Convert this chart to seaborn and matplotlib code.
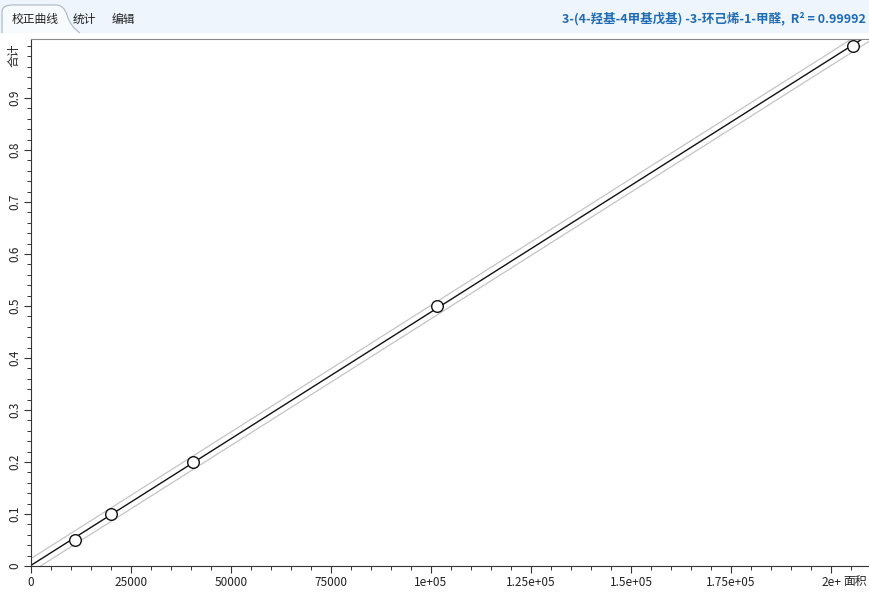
import numpy as np
import pandas as pd
import matplotlib
matplotlib.use("Agg")
import matplotlib.pyplot as plt
from matplotlib.patches import Rectangle, PathPatch
from matplotlib.path import Path
from matplotlib.ticker import FixedLocator, FixedFormatter, MultipleLocator
import seaborn as sns

# Calibration standards: peak area vs. amount
areas = [11000, 20000, 40500, 101500, 205500]
amounts = [0.05, 0.10, 0.20, 0.50, 1.00]
band_halfwidth = 0.013

x_ticks = [0, 25000, 50000, 75000, 100000, 125000, 150000, 175000, 200000]
x_tick_labels = ["0", "25000", "50000", "75000", "1e+05", "1.25e+05", "1.5e+05", "1.75e+05", "2e+"]
y_ticks = [0, 0.1, 0.2, 0.3, 0.4, 0.5, 0.6, 0.7, 0.8, 0.9]
y_tick_labels = ["0", "0.1", "0.2", "0.3", "0.4", "0.5", "0.6", "0.7", "0.8", "0.9"]

title = "3-(4-羟基-4甲基戊基) -3-环己烯-1-甲醛,  R² = 0.99992"
tabs = ["校正曲线", "统计", "编辑"]
x_label = "面积"
y_label = "合计"

sns.set_theme(style="white")
plt.rcParams["font.family"] = ["Noto Sans CJK SC", "DejaVu Sans"]
plt.rcParams["axes.unicode_minus"] = False

W, H = 869, 594
fig = plt.figure(figsize=(W / 100, H / 100), dpi=100)
fig.patch.set_facecolor("white")


def fx(px):
    return px / W


def fy(py):
    return 1 - py / H


# header strip with tabs
header = Rectangle((0, fy(33)), 1, 33 / H, transform=fig.transFigure,
                   facecolor="#eef5fc", edgecolor="none", zorder=0)
fig.patches.append(header)

tab_verts = [(fx(2), fy(33)), (fx(2), fy(12)),
             (fx(2), fy(5)), (fx(12), fy(5)),
             (fx(56), fy(5)),
             (fx(64), fy(5)), (fx(67), fy(15)),
             (fx(70), fy(26)), (fx(80), fy(33))]
tab_codes = [Path.MOVETO, Path.LINETO,
             Path.CURVE3, Path.CURVE3,
             Path.LINETO,
             Path.CURVE3, Path.CURVE3,
             Path.CURVE3, Path.CURVE3]
tab_fill = PathPatch(Path(tab_verts + [(fx(2), fy(33))], tab_codes + [Path.CLOSEPOLY]),
                     transform=fig.transFigure, facecolor="#f8fbfe", edgecolor="none", zorder=1)
tab_edge = PathPatch(Path(tab_verts, tab_codes), transform=fig.transFigure,
                     facecolor="none", edgecolor="#aab6c2", linewidth=0.8, zorder=2)
fig.patches.append(tab_fill)
fig.patches.append(tab_edge)

fig.text(fx(12), fy(19), tabs[0], fontsize=8.5, va="center", ha="left", color="#222222", zorder=3)
fig.text(fx(73), fy(19), tabs[1], fontsize=8.5, va="center", ha="left", color="#222222")
fig.text(fx(112), fy(19), tabs[2], fontsize=8.5, va="center", ha="left", color="#222222")
fig.text(fx(866), fy(18), title, fontsize=9, va="center", ha="right",
         color="#1f6bb5", fontweight="bold")

ax = fig.add_axes([fx(31), 28 / H, (W - 31) / W, (566 - 39) / H])
ax.set_facecolor("white")

xmax = (W - 31) / 100 * 25000
ax.set_xlim(0, xmax)
ax.set_ylim(0, (566 - 39) / 520)

df = pd.DataFrame({"area": areas, "amount": amounts})
slope, intercept = np.polyfit(df["area"], df["amount"], 1)
fit = pd.DataFrame({"area": [0, xmax]})
fit["amount"] = intercept + slope * fit["area"]
fit["upper"] = fit["amount"] + band_halfwidth
fit["lower"] = fit["amount"] - band_halfwidth

sns.lineplot(data=fit, x="area", y="upper", ax=ax, color="#c4c4c4", linewidth=0.9)
sns.lineplot(data=fit, x="area", y="lower", ax=ax, color="#c4c4c4", linewidth=0.9)
sns.lineplot(data=fit, x="area", y="amount", ax=ax, color="#111111", linewidth=1.0)
sns.scatterplot(data=df, x="area", y="amount", ax=ax, s=70, marker="o",
                facecolor="white", edgecolor="#111111", linewidth=1.0, zorder=5)

ax.set_xlabel("")
ax.set_ylabel("")
ax.spines["right"].set_visible(False)
ax.spines["left"].set_color("#333333")
ax.spines["bottom"].set_color("#333333")
ax.spines["top"].set_color("#8a8a8a")
for s in ax.spines.values():
    s.set_linewidth(0.8)

ax.xaxis.set_major_locator(FixedLocator(x_ticks))
ax.xaxis.set_major_formatter(FixedFormatter(x_tick_labels))
ax.xaxis.set_minor_locator(MultipleLocator(5000))
ax.yaxis.set_major_locator(FixedLocator(y_ticks))
ax.yaxis.set_major_formatter(FixedFormatter(y_tick_labels))
ax.yaxis.set_minor_locator(MultipleLocator(0.02))

ax.tick_params(axis="both", which="major", direction="out", length=5, width=0.8,
               color="#333333", labelsize=8.5, labelcolor="#222222", pad=2,
               bottom=True, left=True)
ax.tick_params(axis="both", which="minor", direction="out", length=3, width=0.7,
               color="#333333", bottom=True, left=True)
for lbl in ax.get_yticklabels():
    lbl.set_rotation(90)
    lbl.set_va("center")

fig.text(fx(W - 2), 12 / H, x_label, fontsize=8.5, ha="right", va="center", color="#222222")
fig.text(fx(14), fy(55), y_label, fontsize=8.5, ha="center", va="center",
         rotation=90, color="#222222")

fig.savefig("out.png", dpi=100)
